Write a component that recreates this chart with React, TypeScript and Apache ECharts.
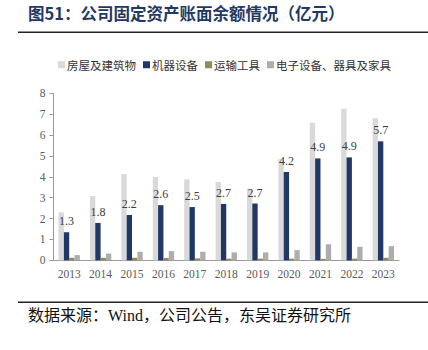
import React, { useEffect, useRef } from "react";
import * as echarts from "echarts";

const years = ["2013", "2014", "2015", "2016", "2017", "2018", "2019", "2020", "2021", "2022", "2023"];
const seriesNames = ["房屋及建筑物", "机器设备", "运输工具", "电子设备、器具及家具"];
const buildings = [2.3, 3.08, 4.13, 3.99, 3.88, 3.75, 3.43, 4.84, 6.59, 7.26, 6.81];
const machinery = [1.34, 1.79, 2.17, 2.64, 2.55, 2.7, 2.72, 4.23, 4.88, 4.93, 5.7];
const transport = [0.12, 0.12, 0.12, 0.11, 0.09, 0.08, 0.08, 0.08, 0.07, 0.08, 0.12];
const electronics = [0.25, 0.32, 0.41, 0.44, 0.41, 0.38, 0.38, 0.49, 0.77, 0.65, 0.68];
const colors = ["#D9D9D9", "#1F3864", "#948A54", "#ADADAD"];

const titleText = "图51：公司固定资产账面余额情况（亿元）";
const sourceText = "数据来源：Wind，公司公告，东吴证券研究所";

export default function App() {
  const ref = useRef<HTMLDivElement>(null);
  useEffect(() => {
    if (!ref.current) return;
    const chart = echarts.init(ref.current, null, { renderer: "svg" });
    const serif = "'Liberation Serif', 'Noto Sans CJK SC', serif";
    const cjk = "'Noto Sans CJK SC', sans-serif";
    const datasets = [buildings, machinery, transport, electronics];
    chart.setOption({
      animation: false,
      backgroundColor: "#ffffff",
      grid: { left: 53.5, right: 29, top: 93.3, bottom: 89.7, containLabel: false },
      legend: {
        top: 54,
        left: 53,
        itemWidth: 7,
        itemHeight: 7,
        itemGap: 7,
        icon: "rect",
        textStyle: { fontFamily: cjk, fontSize: 11.5, color: "#333", padding: [0, 0, 0, -3] },
        data: seriesNames,
      },
      xAxis: {
        type: "category",
        data: years,
        axisLine: { lineStyle: { color: "#999", width: 1 } },
        axisTick: { show: false },
        axisLabel: { fontFamily: serif, fontSize: 11.5, color: "#595959", margin: 8 },
      },
      yAxis: {
        type: "value",
        min: 0,
        max: 8,
        interval: 1,
        splitLine: { show: false },
        axisLine: { show: true, lineStyle: { color: "#999", width: 1 } },
        axisTick: { show: true, length: 4, lineStyle: { color: "#999" } },
        axisLabel: { fontFamily: serif, fontSize: 11.5, color: "#595959", margin: 8 },
      },
      series: seriesNames.map((name, i) => ({
        name,
        type: "bar",
        data: datasets[i],
        barGap: "0%",
        barCategoryGap: "32%",
        itemStyle: { color: colors[i] },
        label:
          i === 1
            ? {
                show: true,
                position: "top",
                distance: 5,
                formatter: (p: any) => Number(p.value).toFixed(1),
                fontFamily: serif,
                fontSize: 12,
                color: "#404040",
              }
            : { show: false },
      })),
      graphic: [
        {
          type: "text",
          left: 28,
          top: 5,
          style: { text: titleText, fontFamily: cjk, fontSize: 16.5, fontWeight: "bold", fill: "#1F3864" },
        },
        {
          type: "rect",
          shape: { x: 18, y: 31.5, width: 410, height: 1.5 },
          style: { fill: "#222" },
        },
        {
          type: "rect",
          shape: { x: 18, y: 301.5, width: 410, height: 1.5 },
          style: { fill: "#222" },
        },
        {
          type: "text",
          left: 28,
          top: 307,
          style: { text: sourceText, fontFamily: serif, fontSize: 16, fill: "#111" },
        },
      ],
    });
    return () => chart.dispose();
  }, []);
  return <div ref={ref} style={{ position: "fixed", left: 0, top: 0, width: 428, height: 350 }} />;
}
